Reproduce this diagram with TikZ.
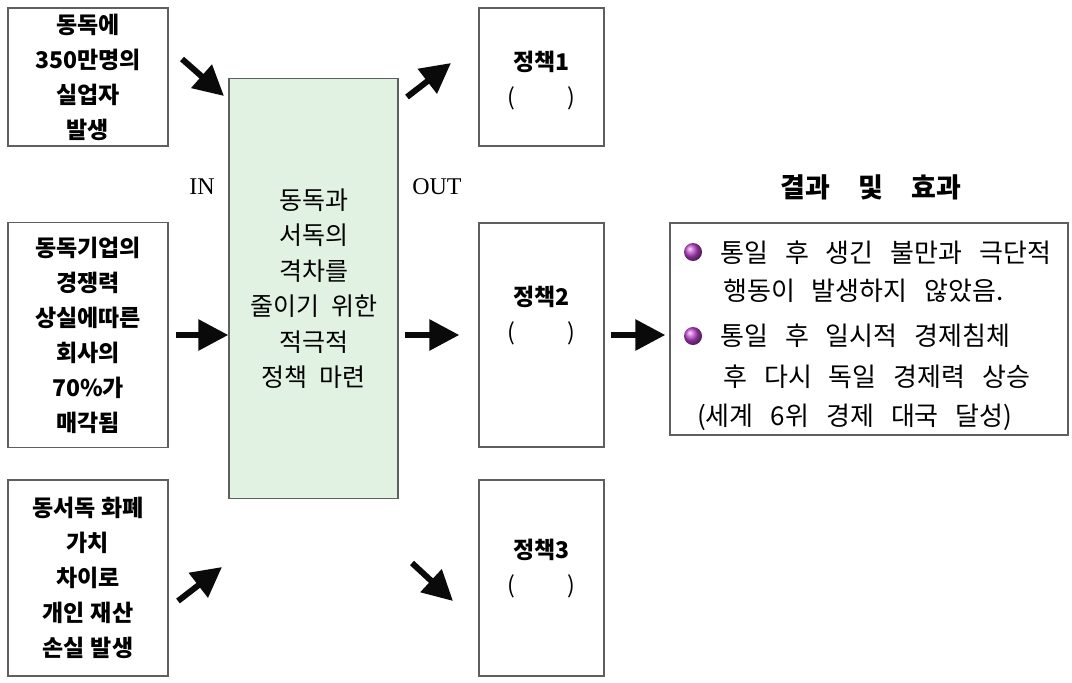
\documentclass[tikz,border=0pt]{standalone}
\usepackage{fontspec}
\usepackage{tikz}
\usetikzlibrary{arrows.meta, positioning, calc}
\newfontfamily\kr{Noto Sans CJK KR}
\newfontfamily\lat{Liberation Serif}
\newcommand\krgap[1]{\spaceskip=#1\relax}
\definecolor{mydark}{RGB}{10,10,10}
\definecolor{boxgray}{RGB}{95,95,95}
\definecolor{midgreen}{RGB}{226,242,226}
\definecolor{ballpurple}{RGB}{190,70,205}
\tikzset{
  inbox/.style={rectangle, draw=boxgray, line width=1.4pt, minimum width=160pt,
    align=center, inner sep=0pt, font=\kr\bfseries\fontsize{23}{35}\selectfont\krgap{6pt}},
  midbox/.style={rectangle, draw=boxgray, fill=midgreen, line width=1.4pt,
    minimum width=169pt, minimum height=420pt, align=center, inner sep=0pt,
    font=\kr\fontsize{25}{35.5}\selectfont\krgap{12pt}},
  polbox/.style={rectangle, draw=boxgray, line width=1.4pt, minimum width=125pt, inner sep=0pt},
  poltext/.style={align=center, inner sep=0pt, font=\kr\bfseries\fontsize{23}{35}\selectfont},
  restext/.style={anchor=west, inner sep=0pt, font=\kr\fontsize{26}{26}\selectfont\krgap{17pt}},
  ioText/.style={inner sep=0pt, font=\lat\fontsize{24}{24}\selectfont},
  bullet/.style={circle, shading=ball, ball color=ballpurple, minimum size=18pt, inner sep=0pt},
  bigarrow/.style={-{Triangle[length=30pt,width=30pt]}, line width=6pt, color=mydark}
}
\begin{document}
\begin{tikzpicture}[x=1pt, y=-1pt]
    \useasboundingbox (0,0) rectangle (1072,683);
    \node[inbox, minimum height=138pt] (cause1) at (88,77) {동독에\\350만명의\\실업자\\발생};
    \node[inbox, minimum height=225pt] (cause2) at (88,335) {동독기업의\\경쟁력\\상실에따른\\회사의\\70\%가\\매각됨};
    \node[inbox, minimum height=196pt] (cause3) at (88,578) {동서독 화폐\\가치\\차이로\\개인 재산\\손실 발생};
    \node[midbox] (plan) at (313.5,288.5) {동독과\\서독의\\격차를\\줄이기 위한\\적극적\\정책 마련};
    \node[ioText] (inlbl) at (202,187) {IN};
    \node[ioText] (outlbl) at (437,187) {OUT};

    \node[polbox, minimum height=138pt] (pol1) at (541.5,77) {};
    \node[polbox, minimum height=224pt] (pol2) at (541.5,335) {};
    \node[polbox, minimum height=196pt] (pol3) at (541.5,578) {};
    \node[poltext] (poltxt1) at (541.5,80.5) {정책1\\{\mdseries(\hspace{52pt})}};
    \node[poltext] (poltxt2) at (541.5,316) {정책2\\{\mdseries(\hspace{52pt})}};
    \node[poltext] (poltxt3) at (541.5,569) {정책3\\{\mdseries(\hspace{52pt})}};

    \node[inner sep=0pt, font=\kr\bfseries\fontsize{27}{27}\selectfont\krgap{28pt}] (restitle) at (871,187) {결과 및 효과};
    \node[polbox, minimum width=398pt, minimum height=212pt] (res) at (869,329) {};
    \node[bullet] (ball1) at (693,252) {};
    \node[bullet] (ball2) at (693,336) {};
    \node[restext] (res1) at (720,253) {통일 후 생긴 불만과 극단적};
    \node[restext] (res2) at (723,291) {행동이 발생하지 않았음.};
    \node[restext] (res3) at (720,336) {통일 후 일시적 경제침체};
    \node[restext] (res4) at (723,377) {후 다시 독일 경제력 상승};
    \node[restext] (res5) at (697,417) {(세계 6위 경제 대국 달성)};

    \coordinate (in1s) at (182,59);
    \coordinate (in1e) at (224,96);
    \coordinate (in3s) at (178,601);
    \coordinate (in3e) at (222,567);
    \coordinate (out1s) at (407,97);
    \coordinate (out1e) at (451,63);
    \coordinate (out3s) at (412,563);
    \coordinate (out3e) at (453,601);
    \draw[bigarrow] (in1s) -- (in1e);
    \draw[bigarrow] ([xshift=7pt]cause2.east) -- (cause2.east -| plan.west);
    \draw[bigarrow] (in3s) -- (in3e);
    \draw[bigarrow] (out1s) -- (out1e);
    \draw[bigarrow] ([xshift=6pt]plan.east |- pol2.west) -- ([xshift=-19pt]pol2.west);
    \draw[bigarrow] (out3s) -- (out3e);
    \draw[bigarrow] ([xshift=6pt]pol2.east) -- ([xshift=-4pt]res.west |- pol2.east);
\end{tikzpicture}
\end{document}
